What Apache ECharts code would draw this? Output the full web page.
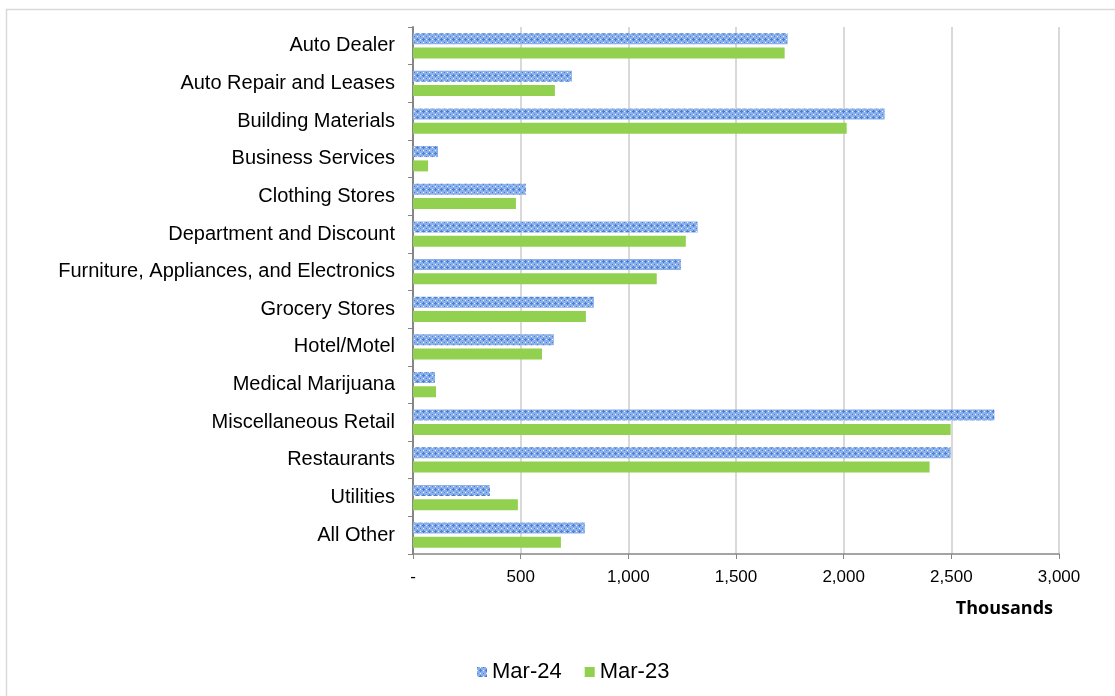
<!DOCTYPE html>
<html><head><meta charset="utf-8">
<script src="https://cdn.jsdelivr.net/npm/echarts@6/dist/echarts.min.js"></script>
<style>html,body{margin:0;padding:0;background:#fff}#c{width:1115px;height:696px}</style>
</head><body><div id="c"></div>
<script>
const categories = ["Auto Dealer","Auto Repair and Leases","Building Materials","Business Services","Clothing Stores","Department and Discount","Furniture, Appliances, and Electronics","Grocery Stores","Hotel/Motel","Medical Marijuana","Miscellaneous Retail","Restaurants","Utilities","All Other"];
const mar24 = [1740,738,2190,116,524,1322,1244,840,654,102,2700,2497,357,798];
const mar23 = [1726,659,2014,70,478,1267,1132,803,599,107,2497,2399,487,687];
const xTicks = [0,500,1000,1500,2000,2500,3000];

function makePattern(){
  const c = document.createElement('canvas');
  c.width = 6; c.height = 6;
  const g = c.getContext('2d');
  g.fillStyle = '#8cb0ea'; g.fillRect(0,0,6,6);
  g.fillStyle = '#4a80d4';
  g.fillRect(3,2,1,3); g.fillRect(2,3,3,1);
  g.fillRect(0,0,1,1);
  g.fillStyle = '#eef3fc';
  g.fillRect(0,3,1,1); g.fillRect(3,0,1,1);
  return {image:c, repeat:'repeat'};
}
const pat = makePattern();

const chart = echarts.init(document.getElementById('c'));
const font = 'Liberation Sans, Arial, sans-serif';
chart.setOption({
  animation:false,
  grid:{left:413,right:56,top:27,bottom:142,containLabel:false},
  legend:{
    bottom:8,left:472,icon:'rect',itemWidth:10,itemHeight:10,itemGap:23,
    textStyle:{fontFamily:font,fontSize:22,color:'#000'},
    data:['Mar-24','Mar-23']
  },
  xAxis:{
    type:'value',min:0,max:3000,interval:500,
    axisLine:{show:true,lineStyle:{color:'#868686',width:1.5}},
    axisTick:{show:true,length:5,lineStyle:{color:'#868686'}},
    splitLine:{show:true,lineStyle:{color:'#d9d9d9',width:2}},
    axisLabel:{fontFamily:font,fontSize:17,color:'#000',margin:15,
      formatter:v=> v===0 ? '-' : v.toLocaleString('en-US')}
  },
  yAxis:{
    type:'category',inverse:true,data:categories,
    axisLine:{show:true,lineStyle:{color:'#868686',width:2}},
    axisTick:{show:true,length:5,lineStyle:{color:'#868686'}},
    axisLabel:{fontFamily:font,fontSize:20,color:'#000',margin:18}
  },
  graphic:[
    {type:'rect',shape:{x:6.5,y:9.5,width:1200,height:800},style:{fill:'none',stroke:'#d9d9d9',lineWidth:1.5},silent:true},
    {type:'text',right:62,top:600,style:{text:'Thousands',font:'bold 18px "Open Sans", sans-serif',fill:'#000'}}
  ],
  series:[
    {name:'Mar-24',type:'bar',data:mar24,barWidth:11,barGap:'30%',itemStyle:{color:pat}},
    {name:'Mar-23',type:'bar',data:mar23,barWidth:11,barGap:'30%',itemStyle:{color:'#92d050'}}
  ]
});
</script></body></html>
